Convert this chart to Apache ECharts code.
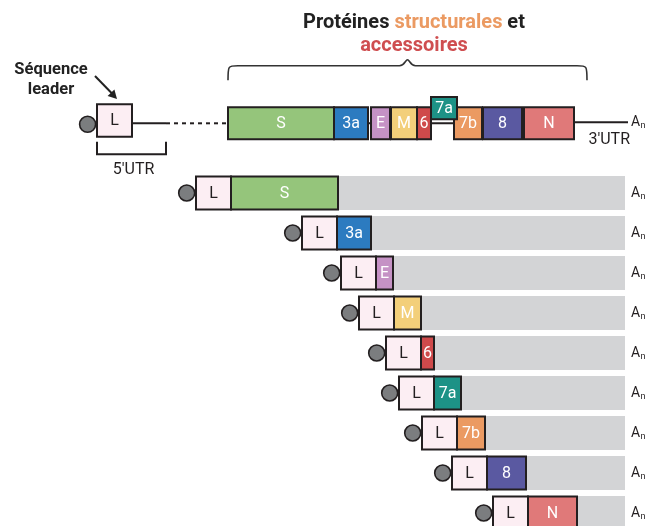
<!DOCTYPE html>
<html><head><meta charset="utf-8">
<script src="https://cdn.jsdelivr.net/npm/echarts@6/dist/echarts.min.js"></script>
<style>html,body{margin:0;padding:0;background:#fff}#c{width:649px;height:526px}</style>
</head><body><div id="c"></div>
<script>
// ---- Genome map (diagram units along the genome) ----
const genomeGenes = ['S', '3a', 'E', 'M', '6', '7a', '7b', '8', 'N'];
const genomeStart = [228, 334, 371, 391, 417, 431, 454, 483, 524];
const genomeEnd   = [334, 368, 390, 417, 431, 457, 482, 522, 574];
const leaderRegion = [97, 132];
const utr5Region = [97, 166];
const gapRegion = [166, 228];
const utr3Region = [574, 628];
const braceRegion = [228, 587];
// ---- Subgenomic RNAs ----
const sgNames = ['S', '3a', 'E', 'M', '6', '7a', '7b', '8', 'N'];
const sgGeneStart = [231, 337, 376, 394, 421, 434, 457, 487, 528];
const sgGeneEnd   = [338, 371, 393, 421, 434, 461, 485, 526, 577];
const polyAEnd = 625;
// ---- Texts ----
const titleParts = ['Protéines ', 'structurales', ' et', 'accessoires'];
const leaderLabel = ['Séquence', 'leader'];
const utr5Label = "5'UTR", utr3Label = "3'UTR";

// ---- Styles ----
const geneColors = {S:'#95C57B', '3a':'#2C7BC0', E:'#C592C5', M:'#F3CF7A', '6':'#CF4A4B',
  '7a':'#1D9286', '7b':'#EB9A62', '8':'#5A59A1', N:'#E07979'};
const INK = '#231f20', LFILL = '#FCEEF3', GRAY = '#D3D4D6', CAP = '#7B7D7F';
const FONT = 'Roboto, "Noto Sans", sans-serif';
const leaderLen = leaderRegion[1] - leaderRegion[0];

function txt(text, x, y, size, color, align, weight) {
  return {type:'text', z2: 20, style:{text:text, x:x, y:y, fill:color, fontSize:size, fontFamily:FONT,
    fontWeight: weight || 'normal', align: align || 'center', verticalAlign:'middle'}};
}
function box(x0, x1, top, h, fill, label, labelColor, z2) {
  return [
    {type:'rect', z2: z2 || 0, shape:{x:x0, y:top, width:x1 - x0, height:h}, style:{fill:fill, stroke:INK, lineWidth:2}},
    Object.assign(txt(label, (x0 + x1) / 2, top + h / 2 + 0.5, 16, labelColor), {z2:(z2 || 0) + 1})
  ];
}
function capCircle(x, y) {
  return {type:'circle', z2: 5, shape:{cx:x, cy:y, r:8}, style:{fill:CAP, stroke:INK, lineWidth:1.6}};
}
function An(x, y) {
  return [txt('A', x, y, 14, INK, 'left'), txt('n', x + 9.5, y + 3.5, 9, INK, 'left')];
}

function renderBackbone(params, api) {
  const c = api.coord([0, 0])[1];
  const X = v => api.coord([v, 0])[0];
  const ch = [];
  ch.push({type:'line', shape:{x1:X(leaderRegion[1]), y1:c, x2:X(gapRegion[0]), y2:c}, style:{stroke:INK, lineWidth:2}});
  ch.push({type:'line', shape:{x1:X(gapRegion[0]), y1:c, x2:X(gapRegion[1]), y2:c}, style:{stroke:INK, lineWidth:2, lineDash:[4, 4]}});
  ch.push({type:'line', shape:{x1:X(genomeEnd[genomeEnd.length - 1]), y1:c - 1, x2:X(utr3Region[1]), y2:c - 1}, style:{stroke:INK, lineWidth:2}});
  ch.push({type:'line', shape:{x1:X(genomeStart[0]), y1:c, x2:X(genomeEnd[genomeEnd.length - 1]), y2:c}, style:{stroke:INK, lineWidth:2}});
  ch.push(capCircle(X(leaderRegion[0]) - 9.4, c + 1));
  ch.push(...box(X(leaderRegion[0]), X(leaderRegion[1]), c - 19, 32.4, LFILL, 'L', INK, 2));
  const bx0 = X(utr5Region[0]), bx1 = X(utr5Region[1]);
  ch.push({type:'polyline', shape:{points:[[bx0, c + 18.5], [bx0, c + 31], [bx1, c + 31], [bx1, c + 18.5]]}, style:{fill:'none', stroke:INK, lineWidth:2}});
  ch.push(txt(utr5Label, (bx0 + bx1) / 2 + 2, c + 47, 16, INK));
  ch.push(txt(utr3Label, X(utr3Region[1]) + 2, c + 17, 16, INK, 'right'));
  ch.push(...An(X(utr3Region[1]) + 3, c - 1));
  const b0 = X(braceRegion[0]), b1 = X(braceRegion[1]), bm = (b0 + b1) / 2;
  const yl = c - 57.5, yp = c - 63.5, ye = c - 43;
  ch.push({type:'path', shape:{pathData:
    `M${b0},${ye} C${b0},${yl} ${b0},${yl} ${b0 + 10},${yl} L${bm - 8},${yl} C${bm - 3},${yl} ${bm - 2},${yp} ${bm},${yp} ` +
    `C${bm + 2},${yp} ${bm + 3},${yl} ${bm + 8},${yl} L${b1 - 10},${yl} C${b1},${yl} ${b1},${yl} ${b1},${ye}`},
    style:{fill:'none', stroke:'#333', lineWidth:1.6}});
  return {type:'group', children:ch};
}

function renderGenomeGene(params, api) {
  const i = params.dataIndex;
  const a = api.coord([api.value(0), 0]), b = api.coord([api.value(1), 0]);
  const c = a[1];
  const raised = i < genomeGenes.length - 1 && genomeEnd[i] > genomeStart[i + 1];
  const h = raised ? 22.3 : 32, top = raised ? c - 26.3 : c - 16;
  return {type:'group', children: box(a[0], b[0], top, h, geneColors[genomeGenes[i]], genomeGenes[i], '#fff', raised ? 10 : 2)};
}

function renderSg(params, api) {
  const i = params.dataIndex;
  const gs = api.value(1), ge = api.value(2);
  const pL = api.coord([gs - leaderLen, i]), pS = api.coord([gs, i]), pE = api.coord([ge, i]), pA = api.coord([polyAEnd, i]);
  const c = pL[1], h = 33, top = c - h / 2;
  const ch = [];
  ch.push({type:'rect', z2:0, shape:{x:pE[0], y:top - 0.5, width:pA[0] - pE[0], height:h + 1}, style:{fill:GRAY}});
  ch.push(capCircle(pL[0] - 9.3, c));
  ch.push(...box(pL[0], pS[0], top, h, LFILL, 'L', INK, 2));
  ch.push(...box(pS[0], pE[0], top, h, geneColors[sgNames[i]], sgNames[i], '#fff', 2));
  ch.push(...An(pA[0] + 6, c));
  return {type:'group', children:ch};
}

const chart = echarts.init(document.getElementById('c'));
chart.setOption({
  animation:false,
  grid:[
    {left:0, right:0, top:103.3, height:40},
    {left:0, right:0, top:193, height:320}
  ],
  xAxis:[
    {type:'value', gridIndex:0, min:0, max:649, show:false},
    {type:'value', gridIndex:1, min:0, max:649, show:false}
  ],
  yAxis:[
    {type:'category', gridIndex:0, data:['Génome'], show:false},
    {type:'category', gridIndex:1, data:sgNames, inverse:true, boundaryGap:false, show:false}
  ],
  graphic:[
    {type:'text', x:414, y:34, style:{
      text:`{a|${titleParts[0]}}{b|${titleParts[1]}}{a|${titleParts[2]}}\n{c|${titleParts[3]}}`,
      align:'center', verticalAlign:'middle',
      rich:{
        a:{fontSize:20, fontWeight:'bold', fontFamily:FONT, fill:'#222', lineHeight:23},
        b:{fontSize:20, fontWeight:'bold', fontFamily:FONT, fill:'#EB9A62', lineHeight:23},
        c:{fontSize:20, fontWeight:'bold', fontFamily:FONT, fill:'#CF4E50', lineHeight:23}
      }}},
    {type:'text', x:51, y:80, style:{text:leaderLabel.join('\n'), align:'center', verticalAlign:'middle',
      fontSize:16.5, fontWeight:'bold', fontFamily:FONT, fill:'#222', lineHeight:19.5}},
    {type:'line', shape:{x1:95, y1:76, x2:112.5, y2:94}, style:{stroke:'#222', lineWidth:2}},
    {type:'polygon', shape:{points:[[117, 99], [107.6, 96], [114.4, 89.4]]}, style:{fill:'#222'}}
  ],
  series:[
    {type:'custom', xAxisIndex:0, yAxisIndex:0, z:1, clip:false, renderItem:renderBackbone,
      data:[[utr5Region[0], utr3Region[1], 0]], encode:{x:[0, 1], y:2}},
    {type:'custom', xAxisIndex:0, yAxisIndex:0, z:2, clip:false, renderItem:renderGenomeGene,
      data:genomeGenes.map((g, i) => [genomeStart[i], genomeEnd[i], 0]), encode:{x:[0, 1], y:2}},
    {type:'custom', xAxisIndex:1, yAxisIndex:1, z:2, clip:false, renderItem:renderSg,
      data:sgNames.map((g, i) => [i, sgGeneStart[i], sgGeneEnd[i]]), encode:{x:[1, 2], y:0}}
  ]
});
</script>
</body></html>
